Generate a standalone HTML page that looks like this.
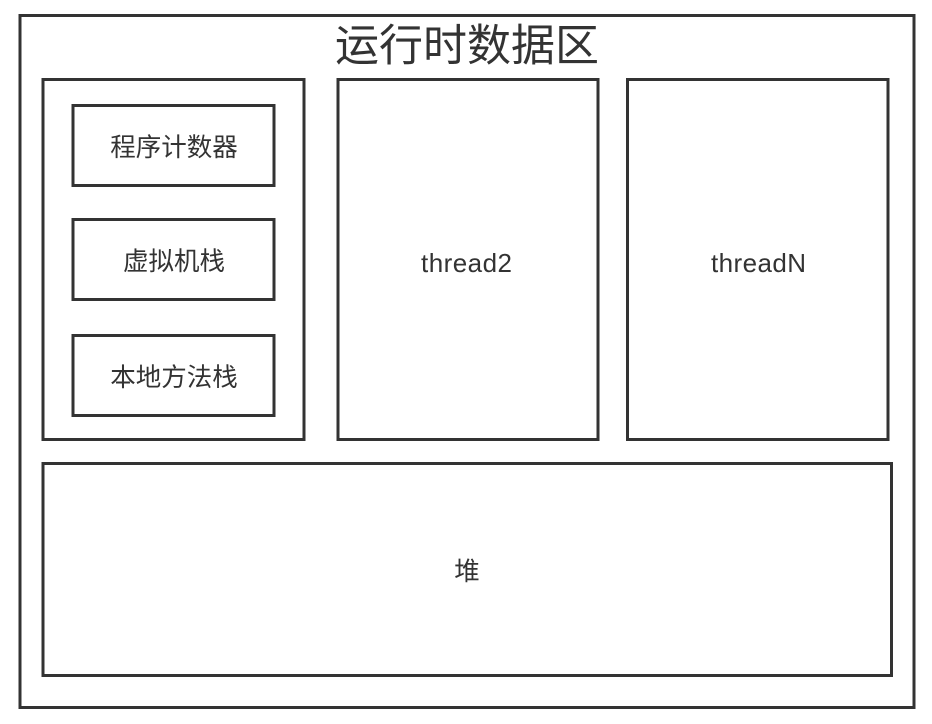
<!DOCTYPE html>
<html><head><meta charset="utf-8"><style>
html,body{margin:0;padding:0;background:#fff;width:932px;height:724px;overflow:hidden}
text{font-family:"Liberation Sans","Noto Sans CJK SC",sans-serif;fill:#333}
</style></head><body>
<svg width="932" height="724" xmlns="http://www.w3.org/2000/svg">
<g fill="none" stroke="#333" stroke-width="3">
<rect x="20" y="15.5" width="894" height="692"/>
<rect x="43" y="79.5" width="261" height="360"/>
<rect x="73" y="105.5" width="201" height="80"/>
<rect x="73" y="219.5" width="201" height="80"/>
<rect x="73" y="335.5" width="201" height="80"/>
<rect x="338" y="79.5" width="260" height="360"/>
<rect x="627.5" y="79.5" width="260.5" height="360"/>
<rect x="43" y="463.5" width="848.5" height="212"/>
</g>
<text x="467" y="46" font-size="44" text-anchor="middle" dominant-baseline="central">运行时数据区</text>
<text x="174" y="148" font-size="25.5" text-anchor="middle" dominant-baseline="central">程序计数器</text>
<text x="174" y="262" font-size="25.5" text-anchor="middle" dominant-baseline="central">虚拟机栈</text>
<text x="174" y="378" font-size="25.5" text-anchor="middle" dominant-baseline="central">本地方法栈</text>
<text x="421" y="263" font-size="26" dominant-baseline="central" textLength="91">thread2</text>
<text x="711" y="263" font-size="26" dominant-baseline="central" textLength="95">threadN</text>
<text x="467" y="572" font-size="25.5" text-anchor="middle" dominant-baseline="central">堆</text>
</svg>
</body></html>
